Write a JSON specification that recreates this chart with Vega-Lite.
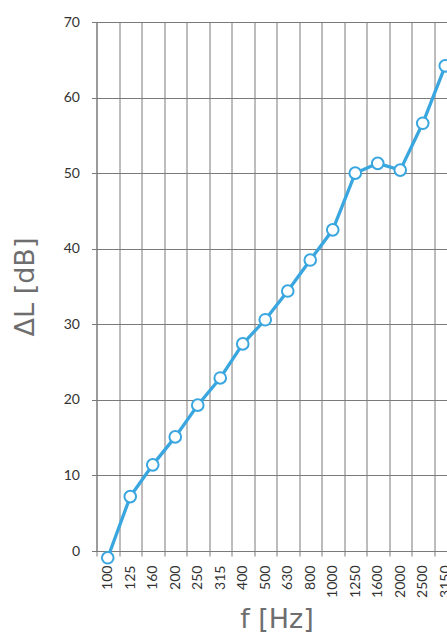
{
  "$schema": "https://vega.github.io/schema/vega-lite/v6.json",
  "width": 350,
  "height": 529,
  "autosize": {"type": "none"},
  "padding": {"left": 96.5, "top": 22, "right": 0, "bottom": 85},
  "config": {"view": {"stroke": null}, "font": "Lato", "background": "white"},
  "data": {"values": [
    {"f": "100", "dL": -0.9},
    {"f": "125", "dL": 7.2},
    {"f": "160", "dL": 11.4},
    {"f": "200", "dL": 15.1},
    {"f": "250", "dL": 19.3},
    {"f": "315", "dL": 22.9},
    {"f": "400", "dL": 27.4},
    {"f": "500", "dL": 30.6},
    {"f": "630", "dL": 34.4},
    {"f": "800", "dL": 38.5},
    {"f": "1000", "dL": 42.5},
    {"f": "1250", "dL": 50.0},
    {"f": "1600", "dL": 51.3},
    {"f": "2000", "dL": 50.4},
    {"f": "2500", "dL": 56.6},
    {"f": "3150", "dL": 64.2}
  ]},
  "encoding": {
    "x": {
      "field": "f", "type": "ordinal", "sort": null,
      "scale": {"type": "band", "range": [0, 360], "paddingInner": 0, "paddingOuter": 0},
      "axis": {
        "title": "f [Hz]", "titleFont": "DejaVu Sans", "titleFontSize": 27, "titleFontWeight": "normal", "titleColor": "#6e6e6e", "titlePadding": 9,
        "labelAngle": -90, "labelAlign": "right", "labelBaseline": "middle", "labelFontSize": 14, "labelColor": "#333333", "labelPadding": 9,
        "tickBand": "extent", "grid": true, "gridColor": "#7a7a7a", "gridWidth": 1, "tickColor": "#7a7a7a", "tickSize": 5,
        "domainColor": "#7a7a7a"
      }
    },
    "y": {
      "field": "dL", "type": "quantitative",
      "scale": {"domain": [0, 70], "nice": false, "zero": false},
      "axis": {
        "title": "ΔL [dB]", "titleFont": "DejaVu Sans", "titleFontSize": 27, "titleFontWeight": "normal", "titleColor": "#6e6e6e", "titlePadding": 24,
        "values": [0, 10, 20, 30, 40, 50, 60, 70],
        "labelFontSize": 14, "labelColor": "#333333", "labelPadding": 12,
        "grid": true, "gridColor": "#7a7a7a", "tickColor": "#7a7a7a", "tickSize": 5, "domainColor": "#7a7a7a"
      }
    }
  },
  "layer": [
    {"mark": {"type": "line", "color": "#3aa6df", "strokeWidth": 3.3}},
    {"mark": {"type": "point", "filled": true, "fill": "white", "stroke": "#3aa6df", "strokeWidth": 2, "size": 135, "opacity": 1}}
  ]
}
